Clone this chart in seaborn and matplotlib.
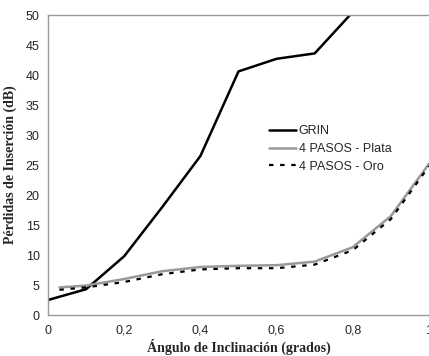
import matplotlib
matplotlib.use("Agg")
import matplotlib.pyplot as plt
import pandas as pd
import seaborn as sns

# datos
grin_x = [0, 0.1, 0.2, 0.3, 0.4, 0.5, 0.6, 0.7, 0.8, 0.9]
grin_y = [2.5, 4.3, 9.8, 18.0, 26.5, 40.6, 42.7, 43.6, 50.5, 58.0]

pasos_x = [0.03, 0.1, 0.2, 0.3, 0.4, 0.5, 0.6, 0.7, 0.8, 0.9, 1.0]
plata_y = [4.6, 4.9, 6.0, 7.3, 8.0, 8.2, 8.3, 8.9, 11.3, 16.5, 25.2]
oro_y = [4.2, 4.6, 5.5, 6.8, 7.6, 7.8, 7.8, 8.4, 10.8, 16.0, 24.8]

x_ticks = [0, 0.2, 0.4, 0.6, 0.8, 1.0]
x_labels = ["0", "0,2", "0,4", "0,6", "0,8", "1"]
y_ticks = list(range(0, 55, 5))

df_grin = pd.DataFrame({"x": grin_x, "y": grin_y})
df_plata = pd.DataFrame({"x": pasos_x, "y": plata_y})
df_oro = pd.DataFrame({"x": pasos_x, "y": oro_y})

sns.set_style("white")
plt.rcParams['font.family'] = ['Liberation Sans', 'DejaVu Sans']

fig = plt.figure(figsize=(4.29, 3.56), dpi=100)
ax = fig.add_axes([48/429, 1-315/356, 1-48/429, 300/356])

sns.lineplot(data=df_grin, x="x", y="y", ax=ax, color="black", lw=1.8, label="GRIN")
sns.lineplot(data=df_plata, x="x", y="y", ax=ax, color="#999999", lw=1.8, label="4 PASOS - Plata")
sns.lineplot(data=df_oro, x="x", y="y", ax=ax, color="black", lw=1.6,
             linestyle=(0, (2, 3)), label="4 PASOS - Oro")

ax.set_xlim(0, 1)
ax.set_ylim(0, 50)
ax.set_xticks(x_ticks)
ax.set_xticklabels(x_labels)
ax.set_yticks(y_ticks)
ax.tick_params(axis="x", direction="inout", length=4, width=0.8, color="#888888",
               labelsize=9, pad=5)
ax.tick_params(axis="y", direction="out", length=3, width=0.8, color="#888888",
               labelsize=9, pad=3)

for s in ["left", "bottom", "top"]:
    ax.spines[s].set_color("#999999")
    ax.spines[s].set_linewidth(1.0)
ax.spines["right"].set_visible(False)

ax.set_xlabel("Ángulo de Inclinación (grados)", fontfamily="Liberation Serif",
              fontweight="bold", fontsize=10)
ax.xaxis.set_label_coords(0.5, -0.078)
ax.set_ylabel("Pérdidas de Inserción (dB)", fontfamily="Liberation Serif",
              fontweight="bold", fontsize=10, labelpad=6)

leg = ax.legend(loc="upper left", bbox_to_anchor=(0.55, 0.67), frameon=False,
                fontsize=9, handlelength=2.2, handletextpad=0.2, labelspacing=0.45)

fig.savefig("out.png", dpi=100)
